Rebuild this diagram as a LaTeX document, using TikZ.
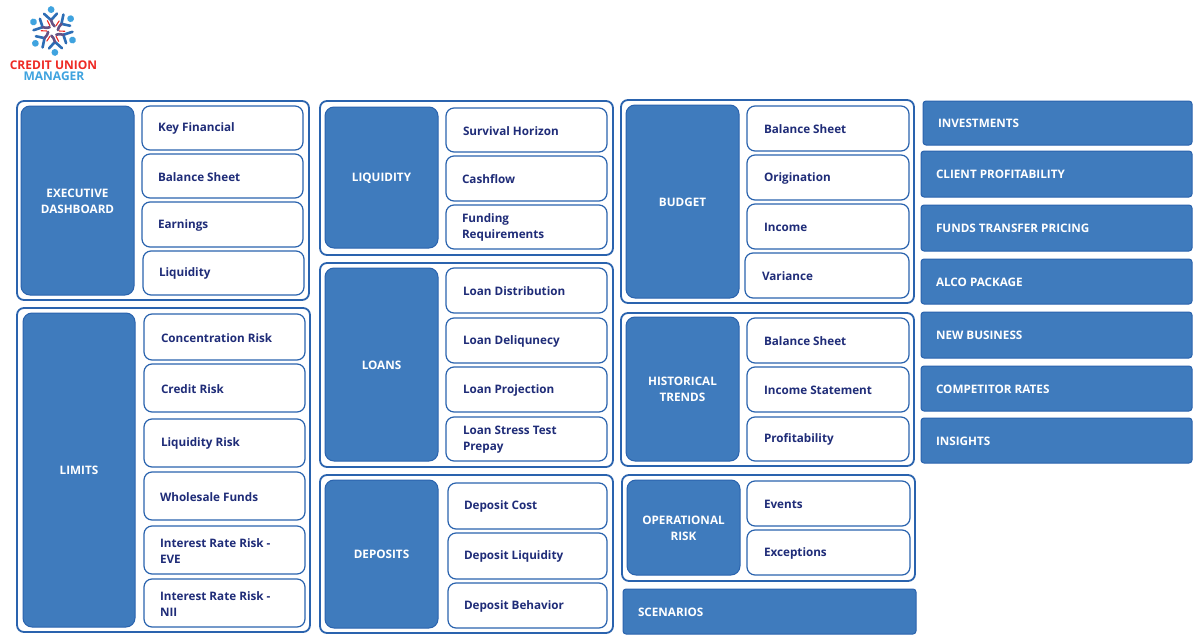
\documentclass[tikz,border=0pt]{standalone}
\usepackage{fontspec}
\setmainfont{Open Sans}
\definecolor{bluefill}{HTML}{3F7BBD}
\definecolor{blueline}{HTML}{2A63AE}
\definecolor{navytext}{HTML}{1F2C78}
\definecolor{logored}{HTML}{EE2A24}
\definecolor{logoblue}{HTML}{3FA3DF}
\tikzset{
  outerbox/.style={draw=blueline,line width=1.8pt,rounded corners=7pt,fill=white},
  darkbox/.style={draw=blueline,line width=1pt,rounded corners=9pt,fill=bluefill,text=white,font=\bfseries\fontsize{11.7}{16}\selectfont,align=center},
  itembox/.style={draw=blueline,line width=1.2pt,rounded corners=8pt,fill=white,text=navytext,font=\bfseries\fontsize{11.7}{16}\selectfont,align=left},
  flatbox/.style={draw=blueline,line width=1pt,rounded corners=3pt,fill=bluefill,text=white,font=\bfseries\fontsize{11.7}{16}\selectfont,align=left},
}
% name, x1, y1, x2, y2, style, left padding, text
\newcommand{\bx}[8]{%
  \pgfmathsetmacro{\cxx}{(#2+#4)/2}%
  \pgfmathsetmacro{\cyy}{(#3+#5)/2}%
  \pgfmathsetmacro{\wdd}{#4-#2}%
  \pgfmathsetmacro{\htt}{#5-#3}%
  \pgfmathsetmacro{\twd}{#4-#2-#7-2}%
  \node[#6,inner xsep=0pt,inner ysep=0pt,minimum width=\wdd pt,minimum height=\htt pt] (#1) at (\cxx,\cyy)
    {\hspace*{#7pt}\parbox{\twd pt}{\vspace*{1.6pt}\ifnum#7=0\centering\fi #8}};%
}
\newcommand{\ob}[5]{\draw[outerbox] (#2,#3) rectangle (#4,#5) coordinate (#1);}
\begin{document}
\begin{tikzpicture}[x=1pt,y=-1pt]
\useasboundingbox[fill=white] (0,0) rectangle (1200,642);
% logo
\begin{scope}[shift={(53,31)}]
  \foreach \a in {5,65,...,305}{
    \begin{scope}[rotate=\a]
      \draw[blueline!85!logoblue,line width=2.6pt,line cap=round,line join=round] (-7.5,-18) -- (-1,-11) -- (5.5,-17);
      \draw[blueline!70!logored,line width=2.6pt,line cap=round] (-1,-11) .. controls (-0.5,-8) and (0.5,-6) .. (2,-4.5);
      \draw[logored,line width=1.1pt,line cap=round] (3.5,-5) -- (7,-9.5);
      \fill[logoblue] (0,-21.5) circle (3.4pt);
    \end{scope}
  }
\end{scope}
\node[text=logored,font=\bfseries\fontsize{12}{12}\selectfont,inner sep=0pt] (logoa) at (53.5,65) {CREDIT UNION};
\node[text=logoblue,font=\bfseries\fontsize{12}{12}\selectfont,inner sep=0pt] (logob) at (54,76) {MANAGER};
% group 1
\ob{o1}{17}{101}{309}{300}
\bx{d1}{21}{106}{134}{295}{darkbox}{0}{EXECUTIVE\\DASHBOARD}
\bx{i11}{142}{106}{303}{150}{itembox}{15}{Key Financial}
\bx{i12}{142}{154}{303}{198}{itembox}{15}{Balance Sheet}
\bx{i13}{142}{202}{303}{247}{itembox}{15}{Earnings}
\bx{i14}{143}{251}{304}{295}{itembox}{15}{Liquidity}
% limits
\ob{o2}{17}{308}{310}{632}
\bx{d2}{23}{313}{135}{627}{darkbox}{0}{LIMITS}
\bx{i21}{144}{314}{305}{360}{itembox}{16}{Concentration Risk}
\bx{i22}{144}{364}{305}{412}{itembox}{16}{Credit Risk}
\bx{i23}{144}{419}{305}{467}{itembox}{16}{Liquidity Risk}
\bx{i24}{144}{472}{305}{520}{itembox}{15}{Wholesale Funds}
\bx{i25}{144}{526}{305}{574}{itembox}{15}{Interest Rate Risk -\\EVE}
\bx{i26}{144}{579}{305}{627}{itembox}{15}{Interest Rate Risk -\\NII}
% liquidity
\ob{o3}{320}{101}{613}{255}
\bx{d3}{325}{107}{438}{248}{darkbox}{0}{LIQUIDITY}
\bx{i31}{446}{108}{607}{152}{itembox}{16}{Survival Horizon}
\bx{i32}{446}{156}{607}{201}{itembox}{15}{Cashflow}
\bx{i33}{446}{205}{607}{249}{itembox}{15}{Funding\\Requirements}
% loans
\ob{o4}{320}{263}{613}{467}
\bx{d4}{325}{268}{438}{461}{darkbox}{0}{LOANS}
\bx{i41}{446}{268}{607}{313}{itembox}{16}{Loan Distribution}
\bx{i42}{446}{318}{607}{363}{itembox}{16}{Loan Deliqunecy}
\bx{i43}{446}{367}{607}{412}{itembox}{16}{Loan Projection}
\bx{i44}{446}{417}{607}{461}{itembox}{16}{Loan Stress Test\\Prepay}
% deposits
\ob{o5}{320}{475}{613}{633}
\bx{d5}{325}{480}{438}{628}{darkbox}{0}{DEPOSITS}
\bx{i51}{448}{483}{607}{529}{itembox}{15}{Deposit Cost}
\bx{i52}{448}{533}{607}{579}{itembox}{15}{Deposit Liquidity}
\bx{i53}{448}{583}{607}{628}{itembox}{15}{Deposit Behavior}
% budget
\ob{o6}{621}{100}{914}{303}
\bx{d6}{626}{105}{739}{298}{darkbox}{0}{BUDGET}
\bx{i61}{747}{106}{909}{151}{itembox}{16}{Balance Sheet}
\bx{i62}{747}{155}{909}{200}{itembox}{16}{Origination}
\bx{i63}{747}{204}{909}{249}{itembox}{16}{Income}
\bx{i64}{745}{253}{909}{298}{itembox}{16}{Variance}
% historical
\ob{o7}{621}{313}{914}{466}
\bx{d7}{626}{317}{739}{461}{darkbox}{0}{HISTORICAL\\TRENDS}
\bx{i71}{747}{318}{909}{363}{itembox}{16}{Balance Sheet}
\bx{i72}{747}{367}{909}{412}{itembox}{16}{Income Statement}
\bx{i73}{747}{417}{909}{461}{itembox}{16}{Profitability}
% operational
\ob{o8}{622}{475}{915}{581}
\bx{d8}{627}{480}{740}{575}{darkbox}{0}{OPERATIONAL\\RISK}
\bx{i81}{747}{481}{910}{526}{itembox}{16}{Events}
\bx{i82}{747}{530}{910}{575}{itembox}{16}{Exceptions}
% flat
\bx{s1}{623}{589}{916}{634}{flatbox}{14}{SCENARIOS}
\bx{r1}{923}{101}{1192}{145}{flatbox}{14}{INVESTMENTS}
\bx{r2}{921}{151}{1192}{197}{flatbox}{14}{CLIENT PROFITABILITY}
\bx{r3}{921}{205}{1192}{251}{flatbox}{14}{FUNDS TRANSFER PRICING}
\bx{r4}{921}{259}{1192}{304}{flatbox}{14}{ALCO PACKAGE}
\bx{r5}{921}{312}{1192}{358}{flatbox}{14}{NEW BUSINESS}
\bx{r6}{921}{366}{1192}{411}{flatbox}{14}{COMPETITOR RATES}
\bx{r7}{921}{418}{1192}{463}{flatbox}{14}{INSIGHTS}
\end{tikzpicture}
\end{document}
